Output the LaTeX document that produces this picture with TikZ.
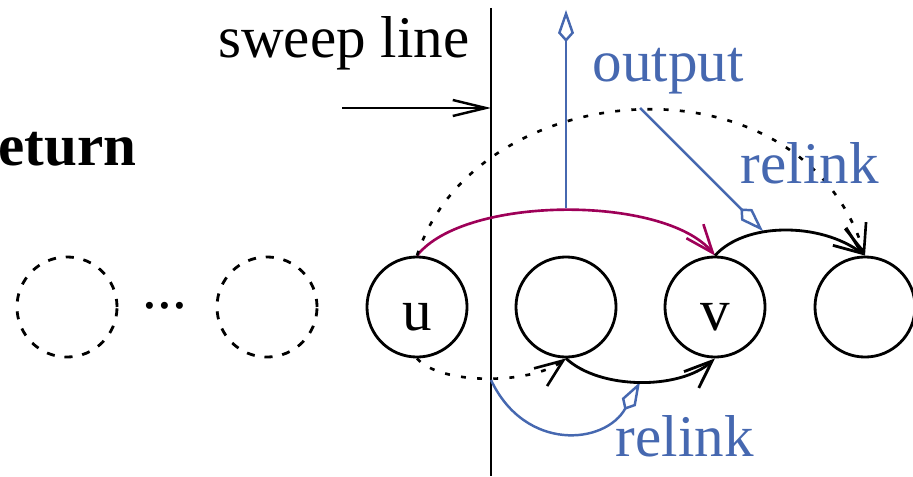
\documentclass[tikz,border=0pt]{standalone}
\usepackage{fontspec}
\setmainfont{Liberation Serif}
\newfontfamily\figfont{Liberation Serif}
\usepackage{tikz}
\usetikzlibrary{arrows.meta}
\definecolor{relinkblue}{RGB}{70,104,176}
\definecolor{linkmagenta}{RGB}{158,0,88}

\begin{document}
\begin{tikzpicture}[x=0.01cm,y=-0.01cm,>={Straight Barb[length=0.28cm,width=0.22cm]},
  every node/.style={font=\figfont\fontsize{16.8}{20}\selectfont,inner sep=0pt},
  cell/.style={draw,circle,line width=0.8pt,minimum size=1cm,inner sep=0pt,text height=0.46cm,text depth=0cm},
  ghost/.style={cell,dash pattern=on 2.3pt off 2.8pt},
  dots/.style={line width=0.75pt,dash pattern=on 1.4pt off 3.2pt},
  blueline/.style={relinkblue,line width=0.7pt,-{Kite[open,length=0.32cm,width=0.16cm,inset=0.09cm]}}]
\useasboundingbox (0,0) rectangle (913,476);
\node[ghost] (g1) at (67,307) {};
\node[ghost] (g2) at (267,307) {};
\node[anchor=base] (dots) at (165,308) {...};
\node[cell] (u) at (417,307) {u};
\node[cell] (w) at (566,307) {};
\node[cell] (v) at (715,307) {v};
\node[cell] (x) at (865,307) {};
\node[anchor=base west,font=\figfont\fontsize{16.8}{20}\selectfont\bfseries] (ret) at (-2,165) {eturn};
\coordinate (sweeptop) at (491,8);
\coordinate (sweepbot) at (491,476);
\draw[line width=0.75pt] (sweeptop) -- (sweepbot);
\node[anchor=base east] (sweeplabel) at (470,58) {sweep line};
\coordinate (push) at (342,108);
\draw[line width=0.7pt,-{Straight Barb[length=0.33cm,width=0.16cm]}] (push) -- (push -| sweeptop);
\coordinate (outbase) at (566,208);
\coordinate (outtip) at (566,10);
\coordinate (dotpeak) at (640,108);
\coordinate (reltip) at (763,231);
\coordinate (sweepcut) at (491,380);
\coordinate (lowmid) at (640,382);
\draw[blueline] (outbase) -- (outtip);
\draw[blueline] (dotpeak) -- (reltip);
\draw[blueline] (sweepcut) .. controls (525,452) and (605,445) .. (lowmid);
\draw[linkmagenta,line width=0.75pt,->] (u.north) .. controls (465,195) and (665,195) .. (v.north);
\draw[dots,->] (u.north) .. controls (475,75) and (800,48) .. (x.north);
\draw[line width=0.8pt,->] (v.north) .. controls (745,222) and (820,222) .. (x.north);
\draw[dots,->] (u.south) .. controls (440,385) and (530,385) .. (w.south);
\draw[line width=0.8pt,->] (w.south) .. controls (600,390) and (680,390) .. (v.south);
\node[relinkblue,anchor=base west] (outlabel) at (592,82) {output};
\node[relinkblue,anchor=base west] (toplabel) at (740,183) {relink};
\node[relinkblue,anchor=base west] (lowlabel) at (615,456) {relink};
\end{tikzpicture}
\end{document}
